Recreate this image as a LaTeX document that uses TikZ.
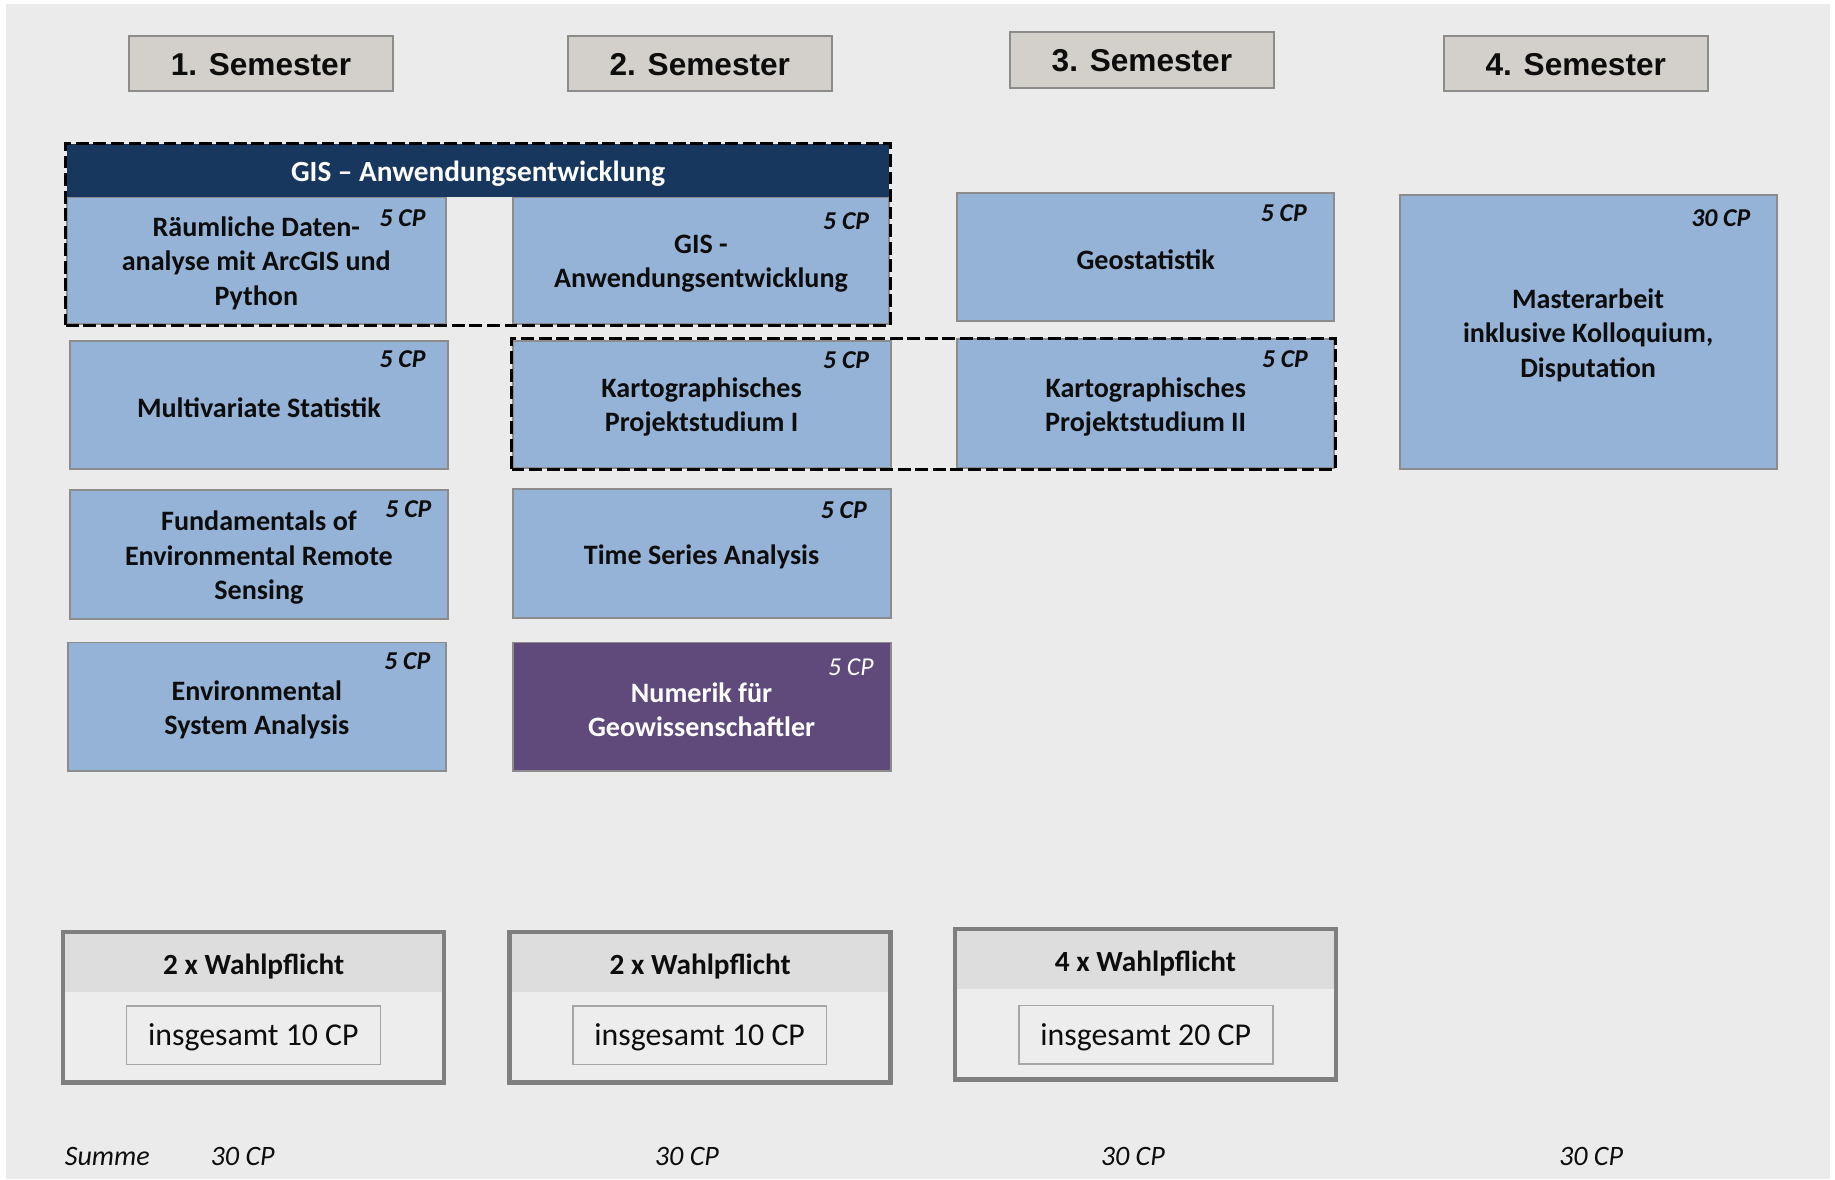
\documentclass[tikz,border=0pt]{standalone}
\usepackage{fontspec}
\setmainfont{Carlito}
\newfontfamily\arialfont{Liberation Sans}
\usetikzlibrary{fit}
\definecolor{bggray}{HTML}{EBEBEB}
\definecolor{modblue}{HTML}{95B3D7}
\definecolor{boxline}{HTML}{8C8C8C}
\definecolor{navy}{HTML}{17375E}
\definecolor{purp}{HTML}{604A7B}
\definecolor{semfill}{HTML}{D3CFCB}
\definecolor{bandgray}{HTML}{DDDDDD}
\definecolor{bodygray}{HTML}{EDEDED}
\definecolor{wline}{HTML}{7F7F7F}
\definecolor{innerline}{HTML}{A6A6A6}
\definecolor{txt}{HTML}{0D0D0D}
\tikzset{
 modbox/.style={draw=boxline, line width=0.85pt, fill=modblue, inner sep=0pt},
 modtext/.style={align=center, inner sep=0pt, yshift=-1.25pt,
   font=\fontsize{12}{14.6}\selectfont\bfseries, text=txt},
 sembox/.style={draw=boxline, line width=0.9pt, fill=semfill, inner sep=0pt,
   minimum width=113pt, minimum height=23.5pt},
 semtext/.style={inner sep=0pt, font=\arialfont\fontsize{13.5}{16}\selectfont\bfseries, text=txt},
 cplabel/.style={anchor=east, inner sep=0pt, font=\fontsize{11}{13}\selectfont\bfseries\itshape, text=txt},
 dashframe/.style={draw=black, line width=1.25pt, dash pattern=on 5.5pt off 2pt, inner sep=0pt},
 wbox/.style={draw=wline, line width=1.9pt, fill=bodygray, inner sep=0pt,
   minimum width=162.75pt, minimum height=64.2pt,
   path picture={\fill[bandgray] (path picture bounding box.north west) rectangle ([yshift=-25.7pt]path picture bounding box.north east);}},
 wtitle/.style={font=\fontsize{12.5}{15}\selectfont\bfseries, inner sep=0pt, text=txt},
 winner/.style={draw=innerline, line width=0.7pt, fill=bodygray, inner sep=0pt,
   minimum width=108.5pt, minimum height=25pt},
 wintext/.style={inner sep=0pt, yshift=-1pt, font=\fontsize{13.6}{16}\selectfont, text=txt},
 sumtext/.style={font=\fontsize{12}{14}\selectfont\itshape, inner sep=0pt, text=txt},
}
\begin{document}
\begin{tikzpicture}[x=0.5pt,y=-0.5pt]
\useasboundingbox (0,0) rectangle (1568,1007.5);
\fill[bggray] (5,3.8) rectangle (1564,1007.5);

% semester headers
\node[sembox, label={[semtext, yshift=-0.5pt]center:1. Semester}] (s1) at (223,54.5) {};
\node[sembox, label={[semtext, yshift=-0.5pt]center:2. Semester}] (s2) at (598,54.5) {};
\node[sembox, minimum height=24pt, label={[semtext, yshift=-0.5pt]center:3. Semester}] (s3) at (975.75,51) {};
\node[sembox, label={[semtext, yshift=-0.5pt]center:4. Semester}] (s4) at (1346.5,54.5) {};

% modules
\node[modbox, minimum width=162pt, minimum height=54.5pt,
  label={[modtext]center:{Räumliche Daten-\\analyse mit ArcGIS und\\Python}}] (raeum) at (219,222.5) {};
\node[modbox, minimum width=161pt, minimum height=54.5pt,
  label={[modtext]center:{GIS -\\Anwendungsentwicklung}}] (gisanw) at (599,222.5) {};
\node[fill=navy, inner sep=0pt, minimum width=351.5pt, minimum height=22.5pt,
  label={[modtext, yshift=-0.3pt, text=white, font=\fontsize{12.5}{15}\selectfont\bfseries]center:{GIS – Anwendungsentwicklung}}] (gishead) at (408.5,145.5) {};
\node[modbox, minimum width=161pt, minimum height=54.75pt,
  label={[modtext]center:{Geostatistik}}] (geo) at (979,219.75) {};
\node[modbox, minimum width=161pt, minimum height=117pt,
  label={[modtext]center:{Masterarbeit\\inklusive Kolloquium,\\Disputation}}] (master) at (1357,284) {};
\node[modbox, minimum width=161.75pt, minimum height=54.8pt,
  label={[modtext]center:{Multivariate Statistik}}] (multi) at (221.25,346.2) {};
\node[modbox, minimum width=161.5pt, minimum height=54.5pt,
  label={[modtext]center:{Kartographisches\\Projektstudium I}}] (kart1) at (599.5,345.5) {};
\node[modbox, minimum width=161pt, minimum height=55pt,
  label={[modtext]center:{Kartographisches\\Projektstudium II}}] (kart2) at (979,345) {};
\node[modbox, minimum width=161.75pt, minimum height=55pt,
  label={[modtext]center:{Fundamentals of\\Environmental Remote\\Sensing}}] (fund) at (221.25,474) {};
\node[modbox, minimum width=161.5pt, minimum height=55pt,
  label={[modtext]center:{Time Series Analysis}}] (ts) at (599.5,473) {};
\node[modbox, minimum width=161.5pt, minimum height=55pt,
  label={[modtext]center:{Environmental\\System Analysis}}] (env) at (219.5,604) {};
\node[modbox, fill=purp, minimum width=161.5pt, minimum height=55pt,
  label={[modtext, text=white]center:{Numerik für\\Geowissenschaftler}}] (num) at (599.5,604) {};

% dashed groupings
\node[dashframe, fit=(gishead)(raeum)(gisanw)] (grp1) {};
\node[dashframe, fit=(kart1)(kart2)] (grp2) {};

% credit labels
\node[cplabel] (cpraeum) at (364,186) {5 CP};
\node[cplabel] (cpgis) at (743,189) {5 CP};
\node[cplabel] (cpgeo) at (1117,182) {5 CP};
\node[cplabel] (cpmaster) at (1496,186) {30 CP};
\node[cplabel] (cpmulti) at (364,307) {5 CP};
\node[cplabel] (cpkart1) at (743,308) {5 CP};
\node[cplabel] (cpkart2) at (1118,307) {5 CP};
\node[cplabel] (cpfund) at (369,435) {5 CP};
\node[cplabel] (cpts) at (741,436) {5 CP};
\node[cplabel] (cpenv) at (368,565) {5 CP};
\node[cplabel, font=\fontsize{11}{13}\selectfont\itshape, text=white] (cpnum) at (747,570) {5 CP};

% Wahlpflicht
\node[wbox] (w1) at (216.75,860.8) {};
\node[wtitle] (wt1) at (216.75,826) {2 x Wahlpflicht};
\node[winner, label={[wintext]center:insgesamt 10 CP}] (wi1) at (216.5,884.6) {};
\node[wbox] (w2) at (598.3,860.8) {};
\node[wtitle] (wt2) at (598.3,826) {2 x Wahlpflicht};
\node[winner, label={[wintext]center:insgesamt 10 CP}] (wi2) at (597.85,884.6) {};
\node[wbox] (w3) at (978.8,858.2) {};
\node[wtitle] (wt3) at (978.8,823) {4 x Wahlpflicht};
\node[winner, label={[wintext]center:insgesamt 20 CP}] (wi3) at (979,884.3) {};

% sums
\node[sumtext, anchor=west] (summe) at (55,988) {Summe};
\node[sumtext] (sum1) at (207.4,988) {30 CP};
\node[sumtext] (sum2) at (587,988) {30 CP};
\node[sumtext] (sum3) at (968,988) {30 CP};
\node[sumtext] (sum4) at (1359.5,988) {30 CP};
\end{tikzpicture}
\end{document}
